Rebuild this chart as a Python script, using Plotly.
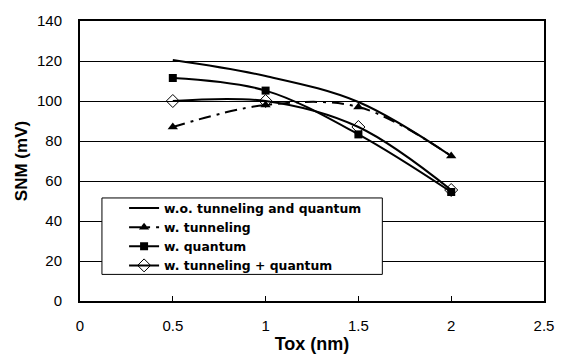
import plotly.graph_objects as go

tox = [0.5, 1.0, 1.5, 2.0]
snm_wo = [120.5, 112.5, 99.5, 72.5]
snm_tunnel = [87, 98, 97, 72.5]
snm_quantum = [111.5, 105.2, 83.3, 54.5]
snm_both = [100, 100, 87, 55.5]

names = ["w.o. tunneling and quantum", "w. tunneling", "w. quantum", "w. tunneling + quantum"]

fig = go.Figure()
fig.add_trace(go.Scatter(x=tox, y=snm_wo, name=names[0], mode="lines",
                         line=dict(color="black", width=2, shape="spline")))
fig.add_trace(go.Scatter(x=tox, y=snm_tunnel, name=names[1], mode="lines+markers",
                         line=dict(color="black", width=2, shape="spline", dash="12px,6px,3px,6px"),
                         marker=dict(symbol="triangle-up", size=9, color="black")))
fig.add_trace(go.Scatter(x=tox, y=snm_quantum, name=names[2], mode="lines+markers",
                         line=dict(color="black", width=2, shape="spline"),
                         marker=dict(symbol="square", size=8, color="black")))
fig.add_trace(go.Scatter(x=tox, y=snm_both, name=names[3], mode="lines+markers",
                         line=dict(color="black", width=2, shape="spline"),
                         marker=dict(symbol="diamond-open", size=10, color="black", line=dict(width=1))))

# legend frame drawn as a shape so the entries can sit further right inside it
fig.add_shape(type="rect", xref="paper", yref="paper",
              x0=0.0473, x1=0.6516, y0=0.095, y1=0.368,
              fillcolor="white", line=dict(color="black", width=1), layer="above")

fig.update_layout(
    width=566, height=363,
    margin=dict(l=80, r=21, t=12, b=62),
    paper_bgcolor="white", plot_bgcolor="white",
    font=dict(family="Liberation Sans, Arial", size=15, color="black"),
    showlegend=True,
    legend=dict(x=0.095, y=0.384, xanchor="left", yanchor="top",
                bgcolor="rgba(0,0,0,0)", borderwidth=0,
                font=dict(size=12.4, family="DejaVu Sans", weight="bold"),
                tracegroupgap=0),
)
fig.update_xaxes(range=[0, 2.5], tickvals=[0, 0.5, 1, 1.5, 2, 2.5],
                 ticktext=["0", "0.5", "1", "1.5", "2", "2.5"],
                 showgrid=False, showline=True, linecolor="black", linewidth=2, mirror=True,
                 ticks="inside", ticklen=5, tickcolor="black", ticklabelstandoff=10,
                 title=dict(text="<b>Tox (nm)</b>", font=dict(size=18), standoff=2))
fig.update_yaxes(range=[0, 140], dtick=20,
                 showgrid=True, gridcolor="black", gridwidth=1,
                 showline=True, linecolor="black", linewidth=2, mirror=True,
                 ticks="", zeroline=False, ticklabelstandoff=13,
                 title=dict(text="<b>SNM (mV)</b>", font=dict(size=17), standoff=5))

fig.write_html("out.html")
